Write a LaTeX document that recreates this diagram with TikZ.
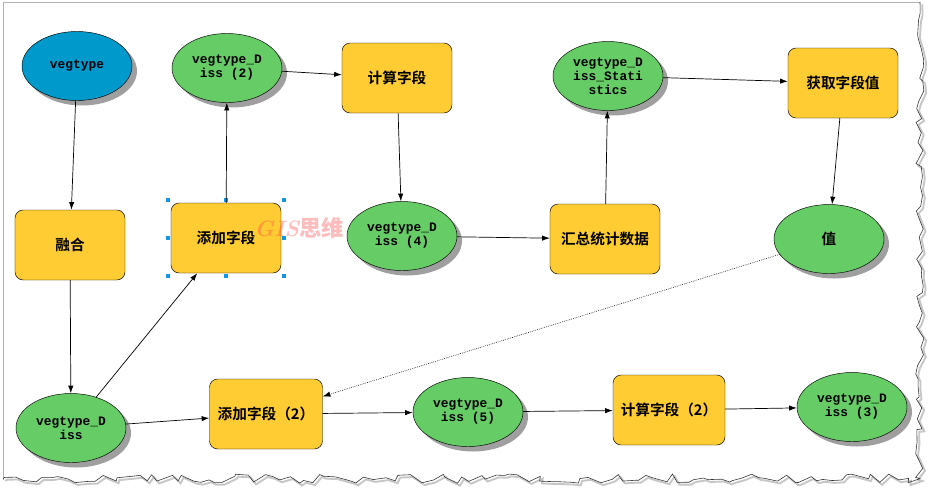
\documentclass[tikz,border=0pt]{standalone}
\usepackage{fontspec}
\newfontfamily\cjkfont{Noto Sans CJK SC}[BoldFont={Noto Sans CJK SC Bold}]
\newfontfamily\monofont{Liberation Mono}
\usetikzlibrary{fit}
\usetikzlibrary{positioning,shapes,shadows,arrows.meta,calc}
\usetikzlibrary{decorations.pathmorphing}
\definecolor{toolyellow}{RGB}{255,204,51}
\definecolor{datagreen}{RGB}{102,204,102}
\definecolor{inputblue}{RGB}{0,153,204}
\definecolor{handleblue}{RGB}{20,150,230}
\tikzstyle{tool}=[rectangle, draw=black, rounded corners=7pt, text centered, fill=toolyellow, minimum width=3.3cm, minimum height=2.1cm, font=\cjkfont\bfseries\fontsize{12.5}{14}\selectfont]
\tikzstyle{data}=[ellipse, draw=black, align=center, fill=datagreen, inner sep=0pt, minimum width=3.3cm, minimum height=2.07cm, drop shadow={shadow xshift=0.15cm, shadow yshift=-0.15cm, fill=gray!75, opacity=1}, font=\monofont\bfseries\fontsize{11}{12}\selectfont]
\tikzstyle{inputdata}=[data, fill=inputblue]
\tikzstyle{myarrow}=[-{Latex[length=6.5pt,width=4.5pt]}, line width=0.6pt]
\tikzstyle{selhandle}=[rectangle, fill=handleblue, minimum size=0.12cm, inner sep=0pt]
\tikzstyle{torn}=[decorate, decoration={random steps, segment length=0.24cm, amplitude=0.14cm}]

\begin{document}
\begin{tikzpicture}
        \useasboundingbox (0,0) rectangle (28.08,-14.88);

        % Paper
        \draw[gray!60, line width=0.6pt] (0.09,-14.4) -- (0.09,-0.06) -- (27.6,-0.06);
        \begin{scope}[shift={(0.07,-0.07)}]
        \pgfmathsetseed{11}
        \draw[gray!45, line width=1.6pt, torn] (27.6,-0.06) -- (27.6,-14.36) -- (0.09,-14.36);
        \end{scope}
        \pgfmathsetseed{11}
        \draw[gray!40!black, line width=0.5pt, torn] (27.6,-0.06) -- (27.6,-14.36) -- (0.09,-14.36);

        % Top row
        \node (vegtype) [inputdata] at (2.31,-1.98) {vegtype};
        \node (diss2) [data, right of=vegtype, node distance=4.5cm, yshift=-0.06cm] {vegtype\_D\\iss (2)};
        \node (calc) [tool, right of=diss2, node distance=5.1cm, yshift=-0.3cm] {计算字段};
        \node (stat) [data, right of=calc, node distance=6.33cm, yshift=0.06cm] {vegtype\_D\\iss\_Stati\\stics};
        \node (getval) [tool, right of=stat, node distance=7.05cm, yshift=-0.21cm] {获取字段值};

        % Middle row
        \node (ronghe) [tool, below of=vegtype, node distance=5.37cm, xshift=-0.21cm] {融合};
        \node (add) [tool, below of=diss2, node distance=5.1cm, xshift=-0.03cm] {添加字段};
        \node (diss4) [data, below of=calc, node distance=4.74cm, xshift=0.15cm] {vegtype\_D\\iss (4)};
        \node (summ) [tool, below of=stat, node distance=4.89cm, xshift=-0.09cm] {汇总统计数据};
        \node (val) [data, below of=getval, node distance=4.68cm, xshift=-0.42cm, font=\cjkfont\bfseries\fontsize{12.5}{14}\selectfont] {值};

        % Bottom row
        \node (diss) [data, below of=ronghe, node distance=5.49cm, xshift=0.03cm] {vegtype\_D\\iss};
        \node (add2) [tool, right of=diss, node distance=5.85cm, yshift=0.42cm, minimum width=3.39cm] {添加字段（2）};
        \node (diss5) [data, right of=add2, node distance=6.06cm, yshift=0.06cm] {vegtype\_D\\iss (5)};
        \node (calc2) [tool, right of=diss5, node distance=6.03cm, yshift=0.06cm, minimum width=3.36cm] {计算字段（2）};
        \node (diss3) [data, right of=calc2, node distance=5.49cm, yshift=0.09cm] {vegtype\_D\\iss (3)};

        % Selection
        \node (addsel) [inner sep=0.08cm, fit={(add)}] {};
        \foreach \a in {north west,north,north east,east,south east,south,south west,west}
            \node [selhandle] at (addsel.\a) {};

        %Arrows
        \draw[myarrow] (vegtype) -- (ronghe);
        \draw[myarrow] (ronghe) -- (diss);
        \draw[myarrow] (diss) -- (add);
        \draw[myarrow] (add) -- (diss2);
        \draw[myarrow] (diss2) -- (calc);
        \draw[myarrow] (calc) -- (diss4);
        \draw[myarrow] (diss4) -- (summ);
        \draw[myarrow] (summ) -- (stat);
        \draw[myarrow] (stat) -- (getval);
        \draw[myarrow] (getval) -- (val);
        \draw[myarrow, densely dotted, line width=0.5pt] (val) -- (add2);

        \draw[myarrow] (diss) -- (add2);
        \draw[myarrow] (add2) -- (diss5);
        \draw[myarrow] (diss5) -- (calc2);
        \draw[myarrow] (calc2) -- (diss3);

        % Watermark
        \node (watermark) [text=red!75, opacity=0.35, inner sep=0pt] at (8.97,-6.84) {\fontsize{19}{19}\selectfont\bfseries\itshape GIS{\cjkfont 思维}};

\end{tikzpicture}
\end{document}
